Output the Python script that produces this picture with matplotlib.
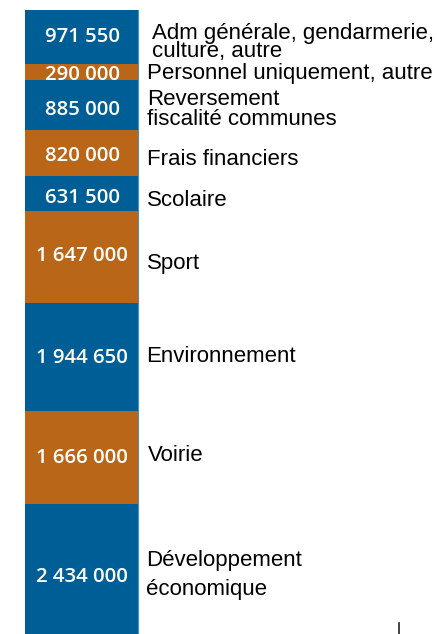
import matplotlib
matplotlib.use("Agg")
import matplotlib.pyplot as plt
from matplotlib.lines import Line2D
import numpy as np

# ---- data ----
categories = [
    "Adm générale, gendarmerie,\nculture, autre",
    "Personnel uniquement, autre",
    "Reversement\nfiscalité communes",
    "Frais financiers",
    "Scolaire",
    "Sport",
    "Environnement",
    "Voirie",
    "Développement\néconomique",
]
values = [971550, 290000, 885000, 820000, 631500, 1647000, 1944650, 1666000, 2434000]
value_labels = ["971 550", "290 000", "885 000", "820 000", "631 500",
                "1 647 000", "1 944 650", "1 666 000", "2 434 000"]

# ---- style / layout ----
BLUE = "#005e96"
ORANGE = "#b96618"
colors = [BLUE, ORANGE] * 4 + [BLUE]
label_x_px = [152, 147, 147, 147, 147, 147, 146, 148, 146]       # left edge of category labels
label_base_px = [20, 7, 19.5, 12, 13, 12, 5, 3.5, 23.4]          # last-line baseline vs segment centre
value_base_px = [4.5, 7.4, 9.5, 8, 10, 4, 5.7, 5, 10]            # value baseline vs segment centre
label_linespacing = [0.84, 1.0, 0.9, 1.0, 1.0, 1.0, 1.0, 1.0, 1.52]

W, H, DPI = 437, 634, 100
BAR_L, BAR_R, BAR_TOP = 25, 137.5, 10
PX_PER_UNIT = 55.8e-6

fig = plt.figure(figsize=(W / DPI, H / DPI), dpi=DPI)
ax = fig.add_axes([0, 0, 1, 1])
bw = BAR_R - BAR_L
ax.set_xlim(-BAR_L / bw, (W - BAR_L) / bw)
ax.set_ylim((H - BAR_TOP) / PX_PER_UNIT, -BAR_TOP / PX_PER_UNIT)
ax.axis("off")

vals = np.array(values, dtype=float)
starts = np.concatenate([[0], np.cumsum(vals)[:-1]])
ax.bar(0, vals, bottom=starts, width=1, align="edge", color=colors, linewidth=0)
# thin light edge on right side of the bar
ax.plot([1, 1], [0, vals.sum()], color="#4f8fc0", lw=0.8)

def px2x(px):
    return (px - BAR_L) / bw

def dpx2y(dpx):
    return dpx / PX_PER_UNIT

for i, (s, v) in enumerate(zip(starts, vals)):
    c = s + v / 2
    ax.text(px2x((BAR_L + BAR_R) / 2 + 1), c + dpx2y(value_base_px[i]), value_labels[i],
            ha="center", va="baseline", color="white",
            fontsize=14.7, fontweight="semibold", family="Open Sans")
    ax.text(px2x(label_x_px[i]), c + dpx2y(label_base_px[i]), categories[i],
            ha="left", va="baseline", color="black", fontsize=16.05,
            family="Liberation Sans", linespacing=label_linespacing[i], clip_on=False)

# small tick mark at bottom right
fig.add_artist(Line2D([398.7 / W, 398.7 / W], [0, 11 / H], color="#222222", lw=1.2,
                      transform=fig.transFigure))

fig.savefig("out.png", dpi=DPI)
